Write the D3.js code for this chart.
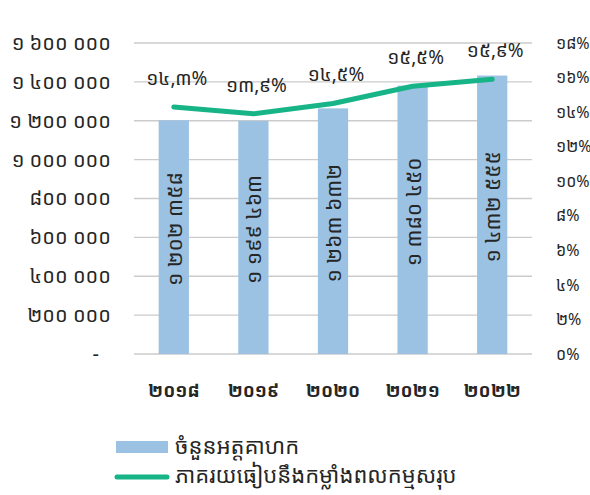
<!DOCTYPE html>
<html>
<head>
<meta charset="utf-8">
<script src="https://cdn.jsdelivr.net/npm/d3@7"></script>
<style>
  body { margin: 0; background: #fff; }
  text { font-family: "Khmer OS", "Noto Sans Khmer", "Khmer OS System", "Noto Sans", sans-serif; fill: #262626; }
</style>
</head>
<body>
<script>
// chart data
const years = [2018, 2019, 2020, 2021, 2022];
const members = [1202358, 1199463, 1263632, 1380450, 1432555];
const shares = [14.3, 13.9, 14.5, 15.5, 15.9];
const leftTicks = [0, 200000, 400000, 600000, 800000, 1000000, 1200000, 1400000, 1600000];
const rightTicks = [0, 2, 4, 6, 8, 10, 12, 14, 16, 18];
const legendLabels = ["ចំនួនអត្តគាហក", "ភាគរយធៀបនឹងកម្លាំងពលកម្មសរុប"];

const W = 590, H = 495;
const khDigits = "០១២៣៤៥៦៧៨៩";
const kh = s => String(s).replace(/[0-9]/g, d => khDigits[+d]);
// 1 202 358 style grouping
const grp = n => kh(String(n).replace(/\B(?=(\d{3})+(?!\d))/g, " "));

const svg = d3.select("body").append("svg")
  .attr("width", W)
  .attr("height", H);

const x = d3.scaleBand()
  .domain(years)
  .range([134, 532])
  .paddingInner(0.62)
  .paddingOuter(0.31);

const y = d3.scaleLinear().domain([0, 1600000]).range([354, 43]);
const y2 = d3.scaleLinear().domain([0, 18]).range([354, 43]);

//gridlines
svg.append("g")
  .selectAll("line")
  .data(leftTicks)
  .enter()
  .append("line")
    .attr("x1", 134)
    .attr("x2", 532)
    .attr("y1", d => y(d))
    .attr("y2", d => y(d))
    .attr("stroke", "#cbcbcb")
    .attr("stroke-width", 1.3);

//left axis
const leftAxis = svg.append("g")
  .attr("transform", "translate(111,0)")
  .call(d3.axisLeft(y).tickValues(leftTicks).tickSize(0)
    .tickFormat(d => d === 0 ? "-" : grp(d)));
leftAxis.select(".domain").remove();
leftAxis.selectAll("text")
  .attr("x", d => d === 0 ? -12 : 0)
  .attr("font-size", "20px")
  .attr("fill", "#262626");

//right axis
const rightAxis = svg.append("g")
  .attr("transform", "translate(556,0)")
  .call(d3.axisRight(y2).tickValues(rightTicks).tickSize(0)
    .tickFormat(d => kh(d) + "%"));
rightAxis.select(".domain").remove();
rightAxis.selectAll("text")
  .attr("x", 0)
  .attr("font-size", "16px")
  .attr("fill", "#262626");

//bottom axis
const bottomAxis = svg.append("g")
  .attr("transform", "translate(0,354)")
  .call(d3.axisBottom(x).tickSize(0).tickFormat(d => kh(d)));
bottomAxis.select(".domain").remove();
bottomAxis.selectAll("text")
  .attr("y", 30)
  .attr("font-size", "18px")
  .attr("font-weight", "bold")
  .attr("fill", "#262626");
svg.selectAll(".tick text").attr("font-family", null);

//bars
svg.append("g")
  .selectAll("rect")
  .data(years)
  .enter()
  .append("rect")
    .attr("x", d => x(d))
    .attr("width", x.bandwidth())
    .attr("y", (d, i) => y(members[i]))
    .attr("height", (d, i) => y(0) - y(members[i]))
    .attr("fill", "#9bc2e2");

//bar value labels
svg.append("g")
  .selectAll("text")
  .data(years)
  .enter()
  .append("text")
    .attr("transform", (d, i) => "translate(" + (x(d) + x.bandwidth() / 2) + "," + ((y(members[i]) + y(0)) / 2 - 8) + ") rotate(-90)")
    .attr("text-anchor", "middle")
    .attr("dominant-baseline", "central")
    .attr("font-size", "21px")
    .text((d, i) => grp(members[i]));

//share line
const line = d3.line()
  .x((d, i) => x(years[i]) + x.bandwidth() / 2)
  .y(d => y2(d));
svg.append("path")
  .datum(shares)
  .attr("d", line)
  .attr("fill", "none")
  .attr("stroke", "#17b488")
  .attr("stroke-width", 5)
  .attr("stroke-linecap", "round")
  .attr("stroke-linejoin", "round");

//line labels
svg.append("g")
  .selectAll("text")
  .data(shares)
  .enter()
  .append("text")
    .attr("x", (d, i) => x(years[i]) + x.bandwidth() / 2 + 3)
    .attr("y", d => y2(d) - 29)
    .attr("text-anchor", "middle")
    .attr("dominant-baseline", "central")
    .attr("font-size", "19px")
    .text(d => kh(d.toFixed(1)).replace(".", ",") + "%");

//legend
const legend = svg.append("g");
legend.append("rect")
  .attr("x", 116).attr("y", 441)
  .attr("width", 52).attr("height", 12)
  .attr("fill", "#9bc2e2");
legend.append("line")
  .attr("x1", 117).attr("x2", 167)
  .attr("y1", 477).attr("y2", 477)
  .attr("stroke", "#17b488")
  .attr("stroke-width", 5)
  .attr("stroke-linecap", "round");
legend.selectAll("text.lg")
  .data(legendLabels)
  .enter()
  .append("text")
    .attr("class", "lg")
    .attr("x", 175)
    .attr("y", (d, i) => 445 + i * 29)
    .attr("dominant-baseline", "central")
    .attr("font-size", "22px")
    .text(d => d);
</script>
</body>
</html>
